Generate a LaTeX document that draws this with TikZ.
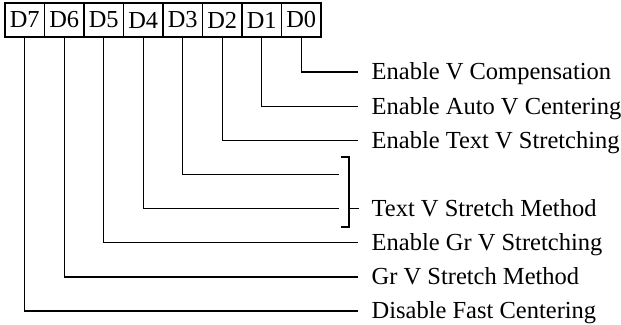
\documentclass[tikz,border=0pt]{standalone}
\usepackage{fontspec}
\setmainfont{Liberation Serif}
\begin{document}
\begin{tikzpicture}[x=0.5pt,y=-0.5pt,
  line width=0.65pt,
  bitbox/.style={draw,minimum width=19.75pt,minimum height=17pt,inner sep=0pt,font=\fontsize{12.2}{14}\selectfont,anchor=center},
  lbl/.style={inner sep=0pt,anchor=base west,font=\fontsize{12.25}{14}\selectfont},
  wire/.style={draw}]
\useasboundingbox (0,0) rectangle (621,325);
% bit boxes
\foreach \i/\n in {0/7,1/6,2/5,3/4,4/3,5/2,6/1,7/0}{
  \node[bitbox] (b\n) at ({5+19.75+39.5*\i},20) {D\n};
}
% end coordinates
\coordinate (e0) at (358,72);
\coordinate (e1) at (358,106.2);
\coordinate (e2) at (358,140.3);
\coordinate (e3) at (339.3,174.5);
\coordinate (e4) at (339.3,208.6);
\coordinate (e5) at (358,242.8);
\coordinate (e6) at (358,276.9);
\coordinate (e7) at (358,311);
% bracket
\coordinate (bt1) at (340.7,157);
\coordinate (bt2) at (349,157);
\coordinate (bb2) at (349,227);
\coordinate (bb1) at (340.7,227);
\coordinate (bm1) at (349,208.6);
\coordinate (bm2) at (359,208.6);
% labels
\node[lbl] (l0) at ([xshift=6.5pt,yshift=-4pt]e0) {Enable V Compensation};
\node[lbl] (l1) at ([xshift=6.5pt,yshift=-4pt]e1) {Enable Auto V Centering};
\node[lbl] (l2) at ([xshift=6.5pt,yshift=-4pt]e2) {Enable Text V Stretching};
\node[lbl] (l4) at ([xshift=6pt,yshift=-4pt]bm2) {Text V Stretch Method};
\node[lbl] (l5) at ([xshift=6.5pt,yshift=-4pt]e5) {Enable Gr V Stretching};
\node[lbl] (l6) at ([xshift=6.5pt,yshift=-4pt]e6) {Gr V Stretch Method};
\node[lbl] (l7) at ([xshift=6.5pt,yshift=-4pt]e7) {Disable Fast Centering};
% wires
\foreach \n in {0,...,7}{
  \draw[wire] (b\n.south) |- (e\n);
}
\draw[wire] (bt1) -- (bt2) -- (bb2) -- (bb1);
\draw[wire] (bm1) -- (bm2);
\end{tikzpicture}
\end{document}
